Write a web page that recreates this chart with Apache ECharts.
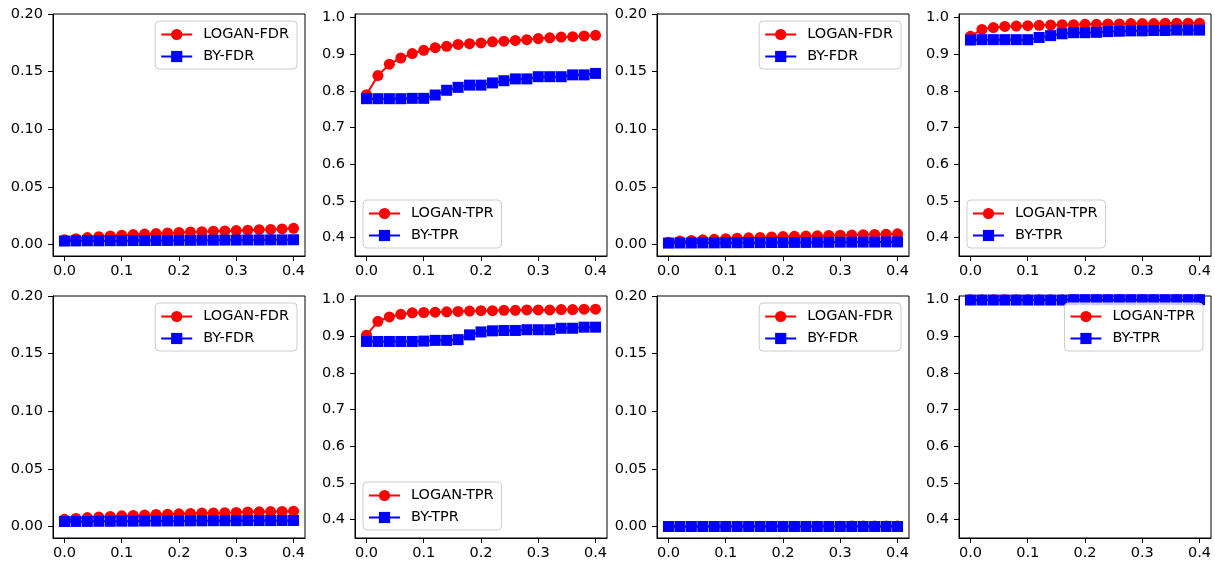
<!DOCTYPE html>
<html>
<head>
<meta charset="utf-8">
<script src="https://cdn.jsdelivr.net/npm/echarts@6/dist/echarts.min.js"></script>
<style>
html,body{margin:0;padding:0;background:#fff;}
#main{width:1215px;height:567px;}
</style>
</head>
<body>
<div id="main"></div>
<script>
// x values (shared by all panels)
const xValues = [0.00,0.02,0.04,0.06,0.08,0.10,0.12,0.14,0.16,0.18,0.20,0.22,0.24,0.26,0.28,0.30,0.32,0.34,0.36,0.38,0.40];
const xTicks = [0.0,0.1,0.2,0.3,0.4];
const fdrTicks = [0.00,0.05,0.10,0.15,0.20];
const tprTicks = [0.4,0.5,0.6,0.7,0.8,0.9,1.0];

// Panel 1 (FDR)
const p1Logan = [0.004,0.005,0.006,0.0068,0.0074,0.0080,0.0086,0.0090,0.0095,0.0100,0.0104,0.0108,0.0111,0.0115,0.0118,0.0121,0.0124,0.0128,0.0131,0.0135,0.0140];
const p1BY    = [0.0030,0.0031,0.0032,0.0032,0.0033,0.0033,0.0034,0.0034,0.0035,0.0035,0.0036,0.0036,0.0037,0.0037,0.0038,0.0038,0.0039,0.0039,0.0040,0.0040,0.0041];
// Panel 2 (TPR)
const p2Logan = [0.790,0.842,0.873,0.890,0.902,0.911,0.918,0.922,0.927,0.929,0.931,0.934,0.936,0.938,0.940,0.943,0.945,0.947,0.948,0.950,0.952];
const p2BY    = [0.779,0.779,0.779,0.779,0.780,0.780,0.789,0.802,0.810,0.816,0.816,0.822,0.828,0.833,0.833,0.839,0.839,0.839,0.844,0.844,0.848];
// Panel 3 (FDR)
const p3Logan = [0.0020,0.0030,0.0035,0.0040,0.0045,0.0050,0.0054,0.0058,0.0061,0.0065,0.0069,0.0071,0.0073,0.0075,0.0078,0.0080,0.0082,0.0085,0.0087,0.0089,0.0092];
const p3BY    = [0.0012,0.0013,0.0013,0.0014,0.0014,0.0015,0.0015,0.0016,0.0016,0.0017,0.0017,0.0018,0.0018,0.0019,0.0019,0.0020,0.0020,0.0021,0.0021,0.0022,0.0022];
// Panel 4 (TPR)
const p4Logan = [0.949,0.968,0.973,0.976,0.977,0.978,0.979,0.980,0.981,0.981,0.982,0.982,0.983,0.983,0.984,0.984,0.984,0.985,0.985,0.985,0.985];
const p4BY    = [0.939,0.940,0.940,0.940,0.940,0.940,0.946,0.951,0.956,0.959,0.959,0.960,0.962,0.963,0.964,0.964,0.965,0.965,0.966,0.966,0.966];
// Panel 5 (FDR)
const p5Logan = [0.0062,0.0070,0.0077,0.0082,0.0087,0.0092,0.0096,0.0100,0.0104,0.0107,0.0110,0.0113,0.0116,0.0118,0.0120,0.0122,0.0125,0.0127,0.0129,0.0131,0.0133];
const p5BY    = [0.0043,0.0044,0.0044,0.0045,0.0045,0.0046,0.0046,0.0047,0.0047,0.0048,0.0048,0.0049,0.0049,0.0050,0.0050,0.0050,0.0051,0.0051,0.0051,0.0052,0.0052];
// Panel 6 (TPR)
const p6Logan = [0.903,0.941,0.953,0.960,0.964,0.965,0.966,0.967,0.968,0.969,0.970,0.970,0.971,0.971,0.972,0.972,0.972,0.973,0.973,0.974,0.974];
const p6BY    = [0.886,0.886,0.886,0.886,0.886,0.887,0.889,0.889,0.891,0.904,0.912,0.915,0.916,0.916,0.918,0.918,0.918,0.922,0.922,0.925,0.925];
// Panel 7 (FDR)
const p7Logan = [0.0000,0.0000,0.0000,0.0000,0.0000,0.0001,0.0001,0.0001,0.0001,0.0002,0.0002,0.0002,0.0002,0.0003,0.0003,0.0003,0.0004,0.0004,0.0004,0.0005,0.0005];
const p7BY    = [0.0000,0.0000,0.0000,0.0000,0.0000,0.0000,0.0000,0.0000,0.0000,0.0000,0.0000,0.0000,0.0000,0.0000,0.0000,0.0000,0.0000,0.0000,0.0000,0.0000,0.0000];
// Panel 8 (TPR)
const p8Logan = [1.000,1.000,1.000,1.000,1.000,1.000,1.000,1.000,1.000,1.000,1.000,1.000,1.000,1.000,1.000,1.000,1.000,1.000,1.000,1.000,1.000];
const p8BY    = [0.999,0.999,0.999,0.999,0.999,0.999,0.999,0.999,0.999,1.000,1.000,1.000,1.000,1.000,1.000,1.000,1.000,1.000,1.000,1.000,1.000];

const panels = [
  {kind:'FDR', logan:p1Logan, by:p1BY, legend:'tr'},
  {kind:'TPR', logan:p2Logan, by:p2BY, legend:'bl'},
  {kind:'FDR', logan:p3Logan, by:p3BY, legend:'tr'},
  {kind:'TPR', logan:p4Logan, by:p4BY, legend:'bl'},
  {kind:'FDR', logan:p5Logan, by:p5BY, legend:'tr'},
  {kind:'TPR', logan:p6Logan, by:p6BY, legend:'bl'},
  {kind:'FDR', logan:p7Logan, by:p7BY, legend:'tr'},
  {kind:'TPR', logan:p8Logan, by:p8BY, legend:'tr'}
];

const FONT = 'DejaVu Sans';
const FS = 14.5;
const colLefts = [53, 355, 657, 959];
const rowTops = [14, 296];
const GW = 252, GH = 242;
const LEG_H = 48;

const grids = [], xAxes = [], yAxes = [], series = [], legends = [];
panels.forEach((p, i) => {
  const r = Math.floor(i / 4), c = i % 4;
  const left = colLefts[c], top = rowTops[r];
  grids.push({left:left, top:top, width:GW, height:GH, show:true, borderColor:'#000', borderWidth:1, backgroundColor:'#fff', containLabel:false});
  xAxes.push({
    type:'value', gridIndex:i, min:-0.02, max:0.42,
    axisLine:{show:true, onZero:false, lineStyle:{color:'#000', width:1}},
    axisTick:{show:true, inside:false, length:5, customValues:xTicks, lineStyle:{color:'#000'}},
    axisLabel:{show:true, customValues:xTicks, margin:8, color:'#000', fontFamily:FONT, fontSize:FS,
      formatter:v => Number(v).toFixed(1)},
    splitLine:{show:false}
  });
  const isF = p.kind === 'FDR';
  const yt = isF ? fdrTicks : tprTicks;
  yAxes.push({
    type:'value', gridIndex:i, min: isF ? -0.01 : 0.35, max: isF ? 0.20 : 1.01,
    axisLine:{show:true, onZero:false, lineStyle:{color:'#000', width:1}},
    axisTick:{show:true, inside:false, length:5, customValues:yt, lineStyle:{color:'#000'}},
    axisLabel:{show:true, customValues:yt, margin:10, color:'#000', fontFamily:FONT, fontSize:FS,
      formatter:v => Number(v).toFixed(isF ? 2 : 1)},
    splitLine:{show:false}
  });
  const n1 = 'LOGAN-' + p.kind, n2 = 'BY-' + p.kind;
  series.push({
    name:n1, type:'line', xAxisIndex:i, yAxisIndex:i,
    data:xValues.map((x, k) => [x, p.logan[k]]),
    symbol:'circle', symbolSize:11, showAllSymbol:true, clip:false,
    lineStyle:{color:'#ff0000', width:2}, itemStyle:{color:'#ff0000'}, z:2, animation:false
  });
  series.push({
    name:n2, type:'line', xAxisIndex:i, yAxisIndex:i,
    data:xValues.map((x, k) => [x, p.by[k]]),
    symbol:'rect', symbolSize:11, showAllSymbol:true, clip:false,
    lineStyle:{color:'#0000ff', width:2}, itemStyle:{color:'#0000ff'}, z:3, animation:false
  });
  const lg = {
    data:[n1, n2], orient:'vertical', itemWidth:31, itemHeight:14, itemGap:7,
    padding:[6,8,5,5], backgroundColor:'rgba(255,255,255,0.8)', borderColor:'#cccccc', borderWidth:1, borderRadius:4,
    textStyle:{fontFamily:FONT, fontSize:FS, color:'#000', padding:[0,0,0,6]},
    selectedMode:false, z:10
  };
  if (p.legend === 'tr') {
    lg.right = 1215 - (left + GW) + 8;
    lg.top = top + 7;
  } else {
    lg.left = left + 8;
    lg.top = top + GH - 8 - LEG_H;
  }
  legends.push(lg);
});

const chart = echarts.init(document.getElementById('main'), null, {renderer:'canvas'});
chart.setOption({
  backgroundColor:'#fff',
  animation:false,
  grid:grids, xAxis:xAxes, yAxis:yAxes, series:series, legend:legends
});
</script>
</body>
</html>
